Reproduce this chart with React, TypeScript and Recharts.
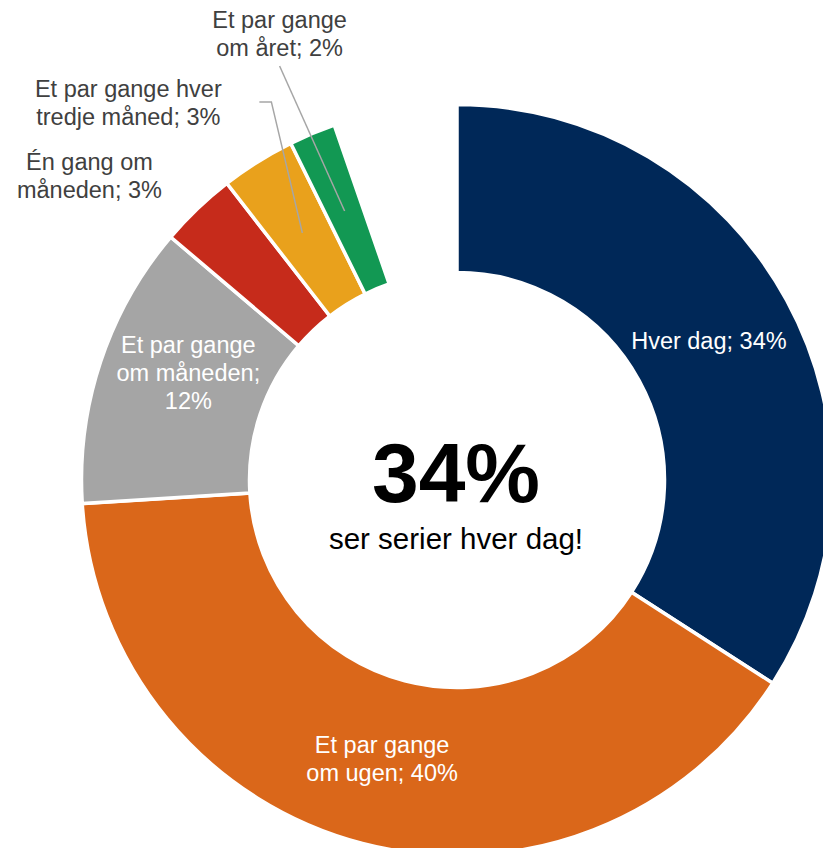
import { PieChart, Pie, Cell, Label } from 'recharts'

// ─── Data ─────────────────────────────────────────────────────────────────────
const CATEGORIES = [
  'Hver dag',
  'Et par gange om ugen',
  'Et par gange om måneden',
  'Én gang om måneden',
  'Et par gange hver tredje måned',
  'Et par gange om året',
]
// share of respondents, read from the arc sizes (the rest, ~5%, is not shown)
const SHARES = [34.1, 39.9, 12.2, 3.3, 3.2, 2.0]
// the rounded numbers printed in the labels
const SHOWN_PCT = [34, 40, 12, 3, 3, 2]
const HEADLINE = 'ser serier hver dag!'

// ─── Styling ──────────────────────────────────────────────────────────────────
const COLORS = ['#002858', '#DA671A', '#A5A5A5', '#C62B1B', '#E9A11C', '#129853']
const FONT = '"Liberation Sans", Arial, sans-serif'
const LABEL_SIZE = 23.5
const LINE_H = 28

// label placement relative to the slice centroid; wrap = max chars per line
interface LabelLayout { inside: boolean; wrap: number; dx: number; dy: number; leader?: number[][] }
const LABEL_LAYOUT: LabelLayout[] = [
  { inside: true,  wrap: 14, dx: -4,   dy: 0 },
  { inside: true,  wrap: 12, dx: -1.5, dy: -3 },
  { inside: true,  wrap: 12, dx: 8,    dy: -15 },
  { inside: false, wrap: 11, dx: -166, dy: -94 },
  { inside: false, wrap: 17, dx: -174, dy: -130, leader: [[-43, -131], [-31, -131]] },
  { inside: false, wrap: 12, dx: -65,  dy: -177, leader: [[-65, -145]] },
]

const data = CATEGORIES.map((name, i) => ({ name, value: SHARES[i], pct: SHOWN_PCT[i] }))
const total = SHARES.reduce((a, b) => a + b, 0)

function wrap(text: string, max: number) {
  const lines: string[] = []
  let cur = ''
  for (const w of text.split(' ')) {
    const next = cur ? `${cur} ${w}` : w
    if (next.length > max && cur) {
      lines.push(cur)
      cur = w
    } else cur = next
  }
  if (cur) lines.push(cur)
  return lines
}

const RADIAN = Math.PI / 180

function renderLabel(props: any) {
  const { cx, cy, midAngle, innerRadius, outerRadius, index } = props
  const layout = LABEL_LAYOUT[index]
  const entry = data[index]
  const r = (innerRadius + outerRadius) / 2
  const px = cx + r * Math.cos(-midAngle * RADIAN)
  const py = cy + r * Math.sin(-midAngle * RADIAN)
  const tx = px + layout.dx
  const ty = py + layout.dy
  const lines = wrap(`${entry.name}; ${entry.pct}%`, layout.wrap)
  const firstBase = ty - ((lines.length - 1) * LINE_H) / 2 + LABEL_SIZE * 0.35
  const leaderPts = layout.leader
    ? [...layout.leader.map(([lx, ly]) => `${px + lx},${py + ly}`), `${px},${py}`].join(' ')
    : null

  return (
    <g key={`lbl-${index}`}>
      {leaderPts && <polyline points={leaderPts} fill="none" stroke="#A6A6A6" strokeWidth={1.5} />}
      <text
        x={tx}
        y={firstBase}
        textAnchor="middle"
        fill={layout.inside ? '#FFFFFF' : '#404040'}
        fontSize={LABEL_SIZE}
        fontFamily={FONT}
      >
        {lines.map((l, i) => (
          <tspan key={i} x={tx} y={firstBase + i * LINE_H}>{l}</tspan>
        ))}
      </text>
    </g>
  )
}

function CenterText(props: any) {
  const vb = props.viewBox || {}
  const cx = vb.cx ?? 457
  const cy = vb.cy ?? 480
  return (
    <g>
      <text x={cx - 1} y={cy + 22} textAnchor="middle" fontFamily={FONT} fontWeight="bold" fontSize={84} fill="#000">
        {`${SHOWN_PCT[0]}%`}
      </text>
      <text x={cx - 1} y={cy + 69} textAnchor="middle" fontFamily={FONT} fontSize={29.5} fill="#000">
        {HEADLINE}
      </text>
    </g>
  )
}

export default function App() {
  return (
    <div style={{ position: 'absolute', left: 0, top: 0, width: 823, height: 848, background: '#fff', overflow: 'hidden' }}>
      <PieChart width={823} height={848} margin={{ top: 0, right: 0, bottom: 0, left: 0 }}>
        <Pie
          data={data}
          dataKey="value"
          nameKey="name"
          cx={457}
          cy={480}
          innerRadius={207.5}
          outerRadius={375.5}
          startAngle={90}
          endAngle={90 - (360 * total) / 100}
          stroke="#FFFFFF"
          strokeWidth={3.5}
          label={renderLabel}
          labelLine={false}
          isAnimationActive={false}
        >
          {data.map((_, i) => (
            <Cell key={`cell-${i}`} fill={COLORS[i]} />
          ))}
          <Label position="center" content={<CenterText />} />
        </Pie>
      </PieChart>
    </div>
  )
}
